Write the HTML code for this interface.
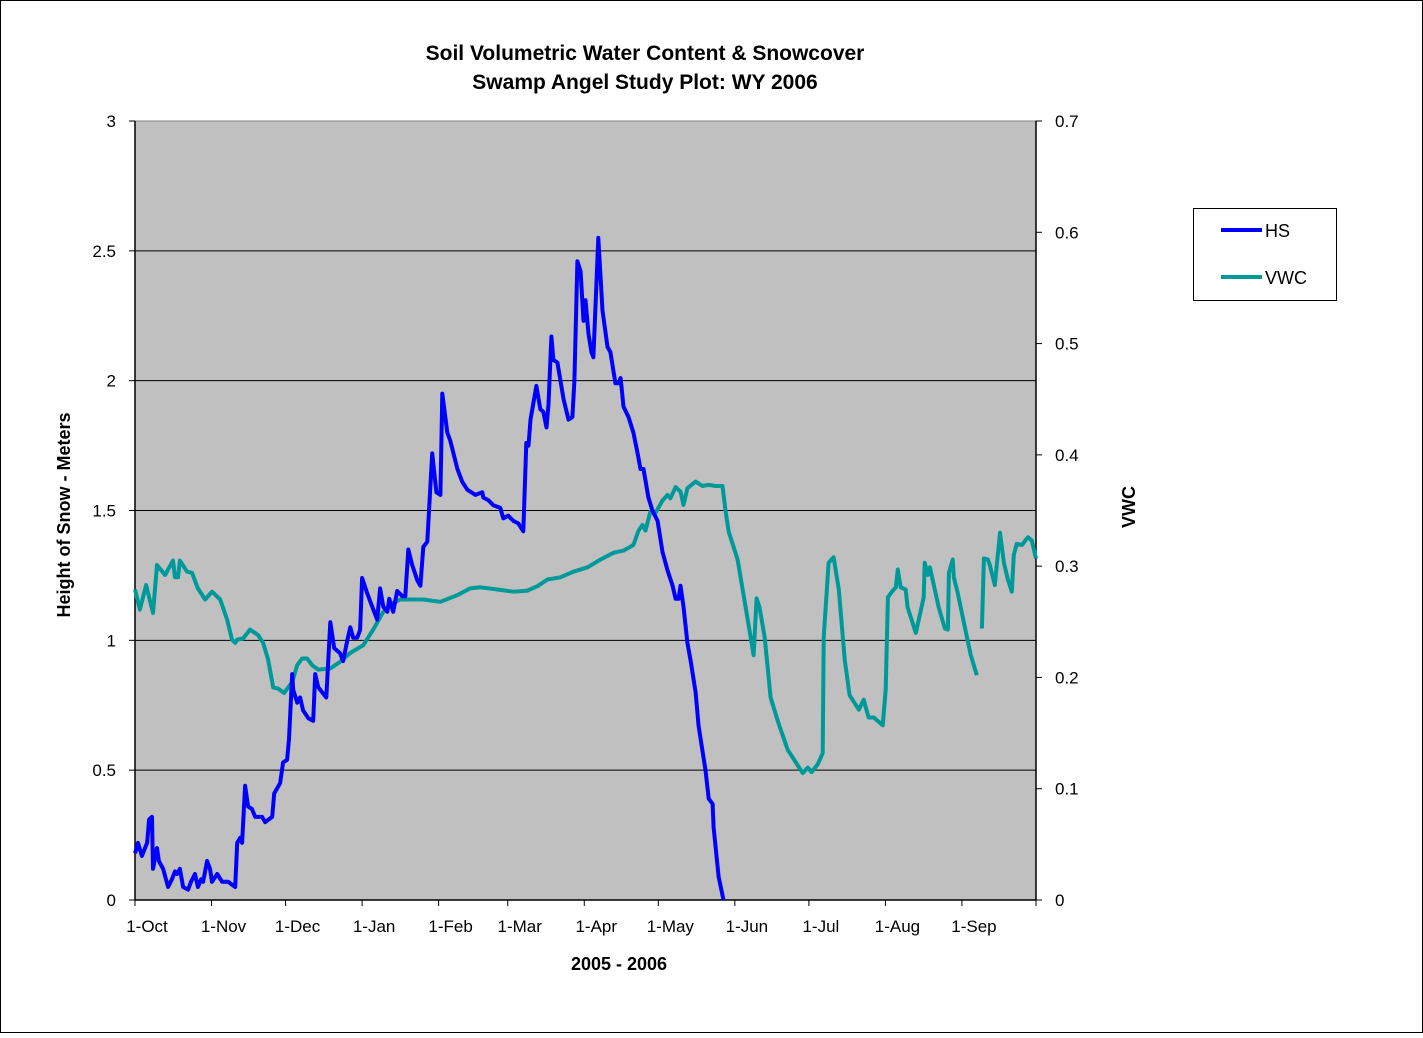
<!DOCTYPE html>
<html><head><meta charset="utf-8"><style>
body{margin:0;background:#fff;}
svg text{font-family:"Liberation Sans",Arial,sans-serif;}
</style></head><body>
<svg id="chart" width="1423" height="1033" xmlns="http://www.w3.org/2000/svg">
<rect x="0.5" y="0.5" width="1422" height="1032" fill="#fff" stroke="#000"/>
<text x="645" y="60" font-size="21" font-weight="bold" text-anchor="middle">Soil Volumetric Water Content &amp; Snowcover</text>
<text x="645" y="89" font-size="21" font-weight="bold" text-anchor="middle">Swamp Angel Study Plot: WY 2006</text>
<rect x="135" y="121" width="901" height="779" fill="#c0c0c0" stroke="#808080"/>
<g id="grid"></g>
<g id="axes"></g>
<g id="series"></g>
<text transform="translate(70,515) rotate(-90)" font-size="18" font-weight="bold" text-anchor="middle">Height of Snow - Meters</text>
<text transform="translate(1135,507) rotate(-90)" font-size="18" font-weight="bold" text-anchor="middle">VWC</text>
<text x="619" y="970" font-size="18" font-weight="bold" text-anchor="middle">2005 - 2006</text>
<g>
<rect x="1193.5" y="208.5" width="143" height="92" fill="#fff" stroke="#000"/>
<line x1="1221" y1="230" x2="1262" y2="230" stroke="#0000ff" stroke-width="4"/>
<text x="1265" y="237" font-size="18">HS</text>
<line x1="1221" y1="277" x2="1262" y2="277" stroke="#009999" stroke-width="4"/>
<text x="1265" y="284" font-size="18">VWC</text>
</g>
</svg>
<script>
const monthLabels=["1-Oct","1-Nov","1-Dec","1-Jan","1-Feb","1-Mar","1-Apr","1-May","1-Jun","1-Jul","1-Aug","1-Sep"];
const monthDays=[0,31,61,92,123,151,182,212,243,273,304,335];
const hsTicks=[0,0.5,1,1.5,2,2.5,3];
const hsTickLabels=["0","0.5","1","1.5","2","2.5","3"];
const vwcTicks=[0,0.1,0.2,0.3,0.4,0.5,0.6,0.7];
const vwcTickLabels=["0","0.1","0.2","0.3","0.4","0.5","0.6","0.7"];
const hsDay=[0,1.2,2.8,4.9,5.7,6.9,7.3,8.9,9.7,11.4,13.4,15,16.2,17,18.2,19.5,21.5,22.7,24.3,25.5,26.8,27.6,29.2,30.4,31.2,33.3,35.3,37.7,40.6,41.4,42.6,43.4,44.6,45.8,47.4,48.7,51.5,52.7,55.6,56.4,57.6,58.8,60,61.6,62.4,63.7,64.1,65.7,66.9,68.1,70.2,72.2,73,74.2,75.8,77.5,79.1,80.7,83.1,84.3,86,87.2,88.4,90,91.2,92,94.1,96.1,98.1,99.3,100.6,102.2,103,104.6,106.2,108.3,109.5,110.7,112.3,114.4,115.6,116.8,118.4,120.4,122.1,123.7,124.5,126.5,127.7,130.6,132.6,134.6,137.9,140.7,141.1,143.1,145.2,148,149.2,151.2,153.3,155.3,157.3,158.5,159.4,160.2,162.6,164.2,165.4,166.7,167.5,168.7,169.5,171.1,173.6,175.6,177.2,178,179.2,180.5,181.7,182.5,183.7,184.9,185.7,187.7,189.4,191.4,192.6,194.6,195.9,196.7,197.9,199.9,201.9,203.6,204.8,206,208,209.6,211.7,213.7,215.7,217.8,219,220.2,221,222.2,223.8,225.1,227.1,228.3,231.1,232.4,234,234.4,236.4,238.4];
const hsVal=[0.18,0.22,0.17,0.22,0.31,0.32,0.12,0.20,0.15,0.12,0.05,0.08,0.11,0.10,0.12,0.05,0.04,0.07,0.10,0.05,0.08,0.07,0.15,0.12,0.07,0.10,0.07,0.07,0.05,0.22,0.24,0.22,0.44,0.36,0.35,0.32,0.32,0.30,0.32,0.41,0.43,0.45,0.53,0.54,0.62,0.87,0.81,0.76,0.78,0.73,0.70,0.69,0.87,0.82,0.80,0.78,1.07,0.97,0.95,0.92,1.00,1.05,1.01,1.01,1.04,1.24,1.18,1.13,1.08,1.20,1.13,1.11,1.16,1.11,1.19,1.17,1.17,1.35,1.29,1.23,1.21,1.36,1.38,1.72,1.57,1.56,1.95,1.80,1.77,1.66,1.61,1.58,1.56,1.57,1.55,1.54,1.52,1.51,1.47,1.48,1.46,1.45,1.42,1.76,1.75,1.85,1.98,1.89,1.88,1.82,1.91,2.17,2.08,2.07,1.93,1.85,1.86,2.00,2.46,2.42,2.23,2.31,2.18,2.11,2.09,2.55,2.27,2.13,2.11,1.99,1.99,2.01,1.90,1.86,1.80,1.72,1.66,1.66,1.55,1.50,1.46,1.34,1.27,1.21,1.16,1.16,1.21,1.13,0.99,0.92,0.80,0.67,0.50,0.39,0.37,0.28,0.09,0];
const vwcDay=[0,2,4.5,7.3,8.9,12.2,15.4,16.2,17.4,18.2,21.1,23.1,25.5,28.4,31.2,34.5,37.3,39.3,40.6,41.4,43.8,46.6,49.9,51.9,53.9,56,58,60.4,63.7,65.7,67.7,69.7,71.8,74.2,79.1,83.1,87.2,92.5,96.5,100.6,104.6,107.5,116.8,123.7,130.6,135.8,139.9,146.8,153.3,159,163,167.1,172.3,177.6,183.3,188.6,193.8,197.9,201.9,204,205.6,206.8,208.8,210.9,213.7,215.7,216.9,219,221,222.2,223.8,227.1,229.9,232.4,235.2,238,239.2,240.5,244.1,248.2,250.6,251.8,253,255.1,257.5,260.7,262.4,264.4,267.6,270.5,272.5,274.1,276.6,278.6,279,281,283,285.1,287.5,289.5,293.2,295.2,297.2,299.3,302.9,304.1,305,307,308.2,309,310.2,312.2,313,316.3,319.5,319.9,321.2,322,325.6,328.1,329.3,329.7,331.3,331.7,333.3,337.4,338.6,341,342,343.1,343.9,345.5,346.3,348.3,350.4,352,353.6,355.2,356,357.2,359.3,361.7,363.3,365];
const vwcVal=[0.279,0.261,0.283,0.258,0.301,0.292,0.305,0.290,0.290,0.305,0.295,0.294,0.280,0.270,0.277,0.270,0.252,0.234,0.231,0.234,0.235,0.243,0.238,0.231,0.216,0.191,0.190,0.186,0.196,0.211,0.217,0.217,0.211,0.207,0.208,0.214,0.222,0.229,0.243,0.259,0.267,0.270,0.270,0.268,0.274,0.280,0.281,0.279,0.277,0.278,0.282,0.288,0.290,0.295,0.299,0.306,0.312,0.314,0.319,0.332,0.337,0.332,0.349,0.348,0.359,0.364,0.361,0.371,0.367,0.355,0.370,0.376,0.372,0.373,0.372,0.372,0.350,0.331,0.306,0.252,0.220,0.271,0.263,0.236,0.182,0.159,0.148,0.135,0.124,0.114,0.119,0.115,0.122,0.132,0.236,0.303,0.308,0.279,0.216,0.184,0.171,0.180,0.164,0.164,0.157,0.189,0.272,0.278,0.281,0.297,0.281,0.279,0.263,0.240,0.272,0.303,0.292,0.299,0.263,0.244,0.243,0.294,0.306,0.290,0.276,0.232,0.220,0.202,null,0.244,0.307,0.306,0.301,0.283,0.330,0.303,0.288,0.277,0.310,0.320,0.319,0.326,0.323,0.307];

const X0=135,X1=1036,Y0=900,Y1=121,NS="http://www.w3.org/2000/svg";
const xS=d=>X0+d/365*(X1-X0);
const yL=v=>Y0-v/3*(Y0-Y1);
const yR=v=>Y0-v/0.7*(Y0-Y1);
function mk(tag,attrs,parent){const e=document.createElementNS(NS,tag);for(const k in attrs)e.setAttribute(k,attrs[k]);parent.appendChild(e);return e;}
const grid=document.getElementById('grid'),axes=document.getElementById('axes'),series=document.getElementById('series');
hsTicks.forEach((t,i)=>{
  const y=yL(t);
  if(t>0&&t<3){const g=mk('line',{x1:X0,x2:X1,y1:y,y2:y,stroke:'#000','stroke-width':1},grid);
    
    }
  const tk=mk('line',{x1:X0-6,x2:X0,y1:y,y2:y,stroke:'#000'},axes);
  
  
  const tx=mk('text',{x:116,y:y+6,'font-size':17,'text-anchor':'end'},axes);
  tx.textContent=hsTickLabels[i];
  
  
});
vwcTicks.forEach((t,i)=>{
  const y=yR(t);
  const tk=mk('line',{x1:X1,x2:X1+6,y1:y,y2:y,stroke:'#000'},axes);
  
  
  const tx=mk('text',{x:1055,y:y+6,'font-size':17},axes);
  tx.textContent=vwcTickLabels[i];
  
  
});
monthDays.concat([365]).forEach((d,i)=>{
  const x=xS(d);
  const tk=mk('line',{x1:x,x2:x,y1:Y0,y2:Y0+6,stroke:'#000'},axes);
  
  
  if(i<monthLabels.length){
    const tx=mk('text',{x:x+12,y:932,'font-size':17,'text-anchor':'middle'},axes);
    tx.textContent=monthLabels[i];
    
    }
});
const ax=mk('line',{x1:X0,x2:X0,y1:Y1,y2:Y0,stroke:'#000','stroke-width':1.5},axes);


const ax2=mk('line',{x1:X1,x2:X1,y1:Y1,y2:Y0,stroke:'#000','stroke-width':1.5},axes);


const axx=mk('line',{x1:X0,x2:X1,y1:Y0,y2:Y0,stroke:'#000','stroke-width':1.5},axes);


function pathFrom(days,vals,ys){let d='',pen=false;days.forEach((dd,i)=>{const v=vals[i];if(v==null){pen=false;return;}d+=(pen?'L':'M')+xS(dd).toFixed(1)+','+ys(v).toFixed(1);pen=true;});return d;}
const pv=mk('path',{d:pathFrom(vwcDay,vwcVal,yR),fill:'none',stroke:'#009999','stroke-width':4,'stroke-linejoin':'round'},series);


const ph=mk('path',{d:pathFrom(hsDay,hsVal,yL),fill:'none',stroke:'#0000ff','stroke-width':4,'stroke-linejoin':'round'},series);


</script>
</body></html>
